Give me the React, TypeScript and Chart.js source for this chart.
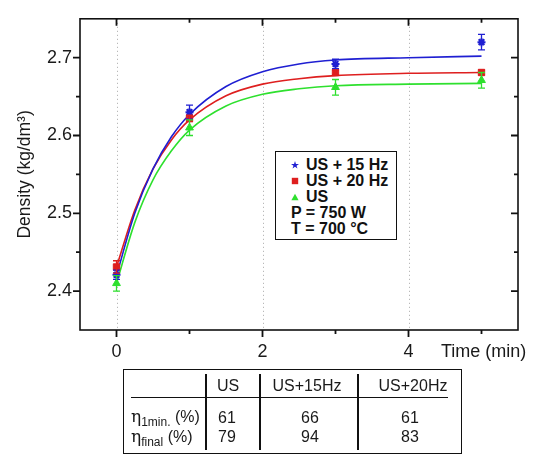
import React, { useEffect, useRef } from 'react';
import { Chart, registerables } from 'chart.js';
Chart.register(...registerables);

// measured points
const timePoints = [0, 1, 3, 5];
const dens15 = [2.421, 2.630, 2.692, 2.720];
const err15 = [0.006, 0.009, 0.006, 0.010];
const dens20 = [2.431, 2.622, 2.681, 2.681];
const err20 = [0.008, 0.004, 0.003, 0.003];
const densUS = [2.410, 2.610, 2.662, 2.671];
const errUS = [0.010, 0.010, 0.010, 0.010];

// fitted curves
const fitTime = [0, 0.25, 0.5, 0.75, 1, 1.5, 2, 2.5, 3, 4, 5];
const fit15 = [2.420, 2.500, 2.557, 2.598, 2.627, 2.663, 2.682, 2.692, 2.697, 2.700, 2.702];
const fit20 = [2.431, 2.504, 2.557, 2.594, 2.620, 2.651, 2.666, 2.673, 2.677, 2.680, 2.681];
const fitUS = [2.410, 2.488, 2.543, 2.580, 2.607, 2.638, 2.653, 2.660, 2.664, 2.666, 2.667];

const xMajorTicks = [0, 2, 4];
const xMinorTicks = [1, 3, 5];
const yMajorTicks = [2.4, 2.5, 2.6, 2.7];
const yMinorTicks = [2.45, 2.55, 2.65];
const xRange = [-0.5, 5.5];
const yRange = [2.35, 2.75];

const seriesNames = ['US + 15 Hz', 'US + 20 Hz', 'US'];
const legendNotes = ['P = 750 W', 'T = 700 °C'];
const yTitle = 'Density (kg/dm³)';
const xTitle = 'Time (min)';

const tableCols = ['US', 'US+15Hz', 'US+20Hz'];
const eta1min = [61, 66, 61];
const etaFinal = [79, 94, 83];

const BLUE = '#1f1fd2';
const RED = '#de1f1f';
const GREEN = '#2ee02e';
const FONT = "'Liberation Sans', Arial, Helvetica, sans-serif";

const toXY = (xs: number[], ys: number[]) => xs.map((x, i) => ({ x, y: ys[i] }));

const decorPlugin = {
  id: 'decor',
  beforeDatasetsDraw(chart: any) {
    const { ctx, chartArea, scales } = chart;
    ctx.save();
    ctx.strokeStyle = '#a8a8a8';
    ctx.lineWidth = 1;
    ctx.setLineDash([1, 3]);
    xMajorTicks.forEach((v) => {
      const x = Math.round(scales.x.getPixelForValue(v)) + 0.5;
      ctx.beginPath();
      ctx.moveTo(x, chartArea.top);
      ctx.lineTo(x, chartArea.bottom);
      ctx.stroke();
    });
    ctx.restore();
  },
  afterDatasetsDraw(chart: any) {
    const { ctx, scales } = chart;
    ctx.save();
    ctx.lineWidth = 1.3;
    chart.data.datasets.forEach((ds: any) => {
      if (!ds.errors) return;
      ctx.strokeStyle = ds.borderColor;
      ds.data.forEach((p: any, j: number) => {
        const e = ds.errors[j];
        const x = scales.x.getPixelForValue(p.x);
        const y1 = scales.y.getPixelForValue(p.y + e);
        const y2 = scales.y.getPixelForValue(p.y - e);
        ctx.beginPath();
        ctx.moveTo(x, y1);
        ctx.lineTo(x, y2);
        ctx.moveTo(x - 3.5, y1);
        ctx.lineTo(x + 3.5, y1);
        ctx.moveTo(x - 3.5, y2);
        ctx.lineTo(x + 3.5, y2);
        ctx.stroke();
      });
    });
    ctx.restore();
  },
  afterDraw(chart: any) {
    const { ctx, chartArea, scales } = chart;
    const { left, right, top, bottom } = chartArea;
    ctx.save();
    ctx.strokeStyle = '#111';
    ctx.lineWidth = 1.6;
    ctx.strokeRect(left, top, right - left, bottom - top);
    const tick = (vals: number[], len: number) => {
      vals.forEach((v) => {
        const x = scales.x.getPixelForValue(v);
        ctx.beginPath();
        ctx.moveTo(x, bottom);
        ctx.lineTo(x, bottom + len);
        ctx.moveTo(x, top);
        ctx.lineTo(x, top + len);
        ctx.stroke();
      });
    };
    const ytick = (vals: number[], len: number) => {
      vals.forEach((v) => {
        const y = scales.y.getPixelForValue(v);
        ctx.beginPath();
        ctx.moveTo(left, y);
        ctx.lineTo(left - len, y);
        ctx.moveTo(right, y);
        ctx.lineTo(right - len, y);
        ctx.stroke();
      });
    };
    ctx.lineWidth = 1.8;
    tick(xMajorTicks, 7);
    tick(xMinorTicks, 4);
    ytick(yMajorTicks, 7);
    ytick(yMinorTicks, 4);
    ctx.restore();
  },
};

function ChartCanvas() {
  const ref = useRef<HTMLCanvasElement>(null);
  useEffect(() => {
    if (!ref.current) return;
    const chart = new Chart(ref.current, {
      type: 'scatter',
      data: {
        datasets: [
          {
            label: seriesNames[0],
            data: toXY(timePoints, dens15),
            errors: err15,
            borderColor: BLUE,
            backgroundColor: BLUE,
            pointStyle: 'star',
            pointRadius: 4,
            borderWidth: 2,
            showLine: false,
          } as any,
          {
            label: seriesNames[1],
            data: toXY(timePoints, dens20),
            errors: err20,
            borderColor: RED,
            backgroundColor: RED,
            pointStyle: 'rect',
            pointRadius: 4.5,
            borderWidth: 1,
            showLine: false,
          } as any,
          {
            label: seriesNames[2],
            data: toXY(timePoints, densUS),
            errors: errUS,
            borderColor: GREEN,
            backgroundColor: GREEN,
            pointStyle: 'triangle',
            pointRadius: 4.5,
            borderWidth: 1,
            showLine: false,
          } as any,
          {
            label: seriesNames[0] + ' fit',
            data: toXY(fitTime, fit15),
            borderColor: BLUE,
            borderWidth: 1.6,
            pointRadius: 0,
            showLine: true,
            cubicInterpolationMode: 'monotone',
          } as any,
          {
            label: seriesNames[1] + ' fit',
            data: toXY(fitTime, fit20),
            borderColor: RED,
            borderWidth: 1.6,
            pointRadius: 0,
            showLine: true,
            cubicInterpolationMode: 'monotone',
          } as any,
          {
            label: seriesNames[2] + ' fit',
            data: toXY(fitTime, fitUS),
            borderColor: GREEN,
            borderWidth: 1.6,
            pointRadius: 0,
            showLine: true,
            cubicInterpolationMode: 'monotone',
          } as any,
        ],
      },
      options: {
        animation: false,
        responsive: false,
        devicePixelRatio: 1,
        layout: { padding: { top: 10, right: 20, left: 0, bottom: 0 } },
        plugins: { legend: { display: false }, tooltip: { enabled: false } },
        scales: {
          x: {
            type: 'linear',
            min: xRange[0],
            max: xRange[1],
            grid: { display: false, drawTicks: false },
            border: { display: false },
            afterBuildTicks: (s: any) => {
              s.ticks = [...xMajorTicks, ...xMinorTicks].sort((a, b) => a - b).map((v) => ({ value: v }));
            },
            afterFit: (s: any) => {
              s.height = 40;
            },
            ticks: {
              autoSkip: false,
              maxRotation: 0,
              padding: 11,
              color: '#1a1a1a',
              font: { family: FONT, size: 18 },
              callback: (v: any) => (xMajorTicks.includes(Number(v)) ? String(v) : ''),
            },
          },
          y: {
            type: 'linear',
            min: yRange[0],
            max: yRange[1],
            grid: { display: false, drawTicks: false },
            border: { display: false },
            afterBuildTicks: (s: any) => {
              s.ticks = yMajorTicks.map((v) => ({ value: v }));
            },
            afterFit: (s: any) => {
              s.width = 80;
            },
            title: {
              display: true,
              text: yTitle,
              color: '#1a1a1a',
              font: { family: FONT, size: 17.5 },
              padding: { top: 15, bottom: 0 },
            },
            ticks: {
              padding: 8,
              color: '#1a1a1a',
              font: { family: FONT, size: 18 },
              callback: (v: any) => Number(v).toFixed(1),
            },
          },
        },
      } as any,
      plugins: [decorPlugin],
    });
    return () => chart.destroy();
  }, []);
  return <canvas ref={ref} width={538} height={370} style={{ position: 'absolute', left: 0, top: 0 }} />;
}

const Marker = ({ kind, color }: { kind: number; color: string }) => (
  <svg width="8" height="8" viewBox="0 0 10 10" style={{ position: 'absolute', left: -15, top: 4 }}>
    {kind === 0 && (
      <polygon points="5,0 6.2,3.6 10,3.6 6.9,5.8 8.1,9.5 5,7.2 1.9,9.5 3.1,5.8 0,3.6 3.8,3.6" fill={color} />
    )}
    {kind === 1 && <rect x="1" y="1" width="8" height="8" fill={color} />}
    {kind === 2 && <polygon points="5,1 9.5,9 0.5,9" fill={color} />}
  </svg>
);

export default function App() {
  const colors = [BLUE, RED, GREEN];
  const txt: React.CSSProperties = { position: 'absolute', fontFamily: FONT, fontSize: 16, color: '#1a1a1a', whiteSpace: 'nowrap' };
  const eta = (sub: string, key: string) => (
    <span key={key}>
      <span style={{ fontFamily: "'DejaVu Serif', serif", fontSize: 17 }}>η</span>
      <span style={{ fontSize: 12, position: 'relative', top: 4 }}>{sub}</span>
      <span> (%)</span>
    </span>
  );
  const colCenters = [228, 307, 413];
  const vLines = [205, 259, 357];
  return (
    <div style={{ position: 'fixed', left: 0, top: 0, width: 538, height: 457, background: '#fff', overflow: 'hidden' }}>
      <ChartCanvas />
      {/* legend box */}
      <div
        style={{
          position: 'absolute',
          left: 275,
          top: 151,
          width: 122,
          height: 89,
          boxSizing: 'border-box',
          border: '1.6px solid #111',
          background: '#fff',
          fontFamily: FONT,
          fontWeight: 'bold',
          fontSize: 16,
          lineHeight: '16px',
          color: '#111',
          paddingTop: 5,
        }}
      >
        {seriesNames.map((n, i) => (
          <div key={n} style={{ position: 'relative', marginLeft: 30 }}>
            <Marker kind={i} color={colors[i]} />
            {n}
          </div>
        ))}
        {legendNotes.map((n) => (
          <div key={n} style={{ marginLeft: 15 }}>
            {n}
          </div>
        ))}
      </div>
      {/* x title */}
      <div style={{ ...txt, fontSize: 18, left: 441, top: 341 }}>{xTitle}</div>
      {/* table */}
      <div style={{ position: 'absolute', left: 123, top: 369, width: 339, height: 85, boxSizing: 'border-box', border: '1.5px solid #111' }} />
      {vLines.map((x) => (
        <div key={x} style={{ position: 'absolute', left: x, top: 374, width: 1.5, height: 76, background: '#111' }} />
      ))}
      <div style={{ position: 'absolute', left: 131, top: 396.5, width: 317, height: 1.5, background: '#111' }} />
      {tableCols.map((c, i) => (
        <div key={c} style={{ ...txt, left: colCenters[i] - 60, width: 120, textAlign: 'center', top: 377 }}>
          {c}
        </div>
      ))}
      <div style={{ ...txt, left: 131, top: 406 }}>{eta('1min.', 'a')}</div>
      <div style={{ ...txt, left: 131, top: 426 }}>{eta('final', 'b')}</div>
      {eta1min.map((v, i) => (
        <div key={'a' + i} style={{ ...txt, left: colCenters[i] - 60 + (i === 0 ? -1 : i === 1 ? 3 : -3), width: 120, textAlign: 'center', top: 409 }}>
          {v}
        </div>
      ))}
      {etaFinal.map((v, i) => (
        <div key={'b' + i} style={{ ...txt, left: colCenters[i] - 60 + (i === 0 ? -1 : i === 1 ? 3 : -3), width: 120, textAlign: 'center', top: 428 }}>
          {v}
        </div>
      ))}
    </div>
  );
}
